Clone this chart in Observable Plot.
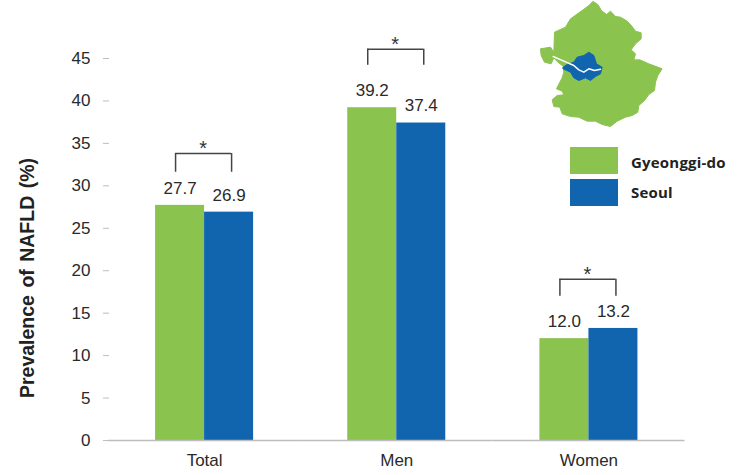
<!DOCTYPE html>
<html><head><meta charset="utf-8">
<script src="https://cdn.jsdelivr.net/npm/d3@7"></script>
<script src="https://cdn.jsdelivr.net/npm/@observablehq/plot@0.6"></script>
<style>
html,body{margin:0;padding:0;background:#fff}
#root{position:relative;width:744px;height:475px;overflow:hidden}
#root svg{position:absolute;overflow:visible}
.lg{position:absolute;font:bold 15px "Open Sans",sans-serif;letter-spacing:.2px;color:#222;line-height:18px;transform:translateY(-50%);white-space:nowrap}
.sw{position:absolute;width:48px;height:27px}
</style></head><body><div id="root"></div>
<script>
const categories = ["Total", "Men", "Women"];
const seriesNames = ["Gyeonggi-do", "Seoul"];
const gyeonggi = [27.7, 39.2, 12.0];
const seoul = [26.9, 37.4, 13.2];
const bracketTop = [33.8, 46.1, 19.0];
const bracketBottom = [31.6, 44.2, 17.0];
const colors = ["#8bc34f", "#1165ae"];
const mapOutlineX = [218,232,243,258,270,285,300,320,335,345,362,362,345,332,345,340,358,385,425,412,405,402,385,372,355,352,335,315,290,270,245,225,200,175,150,125,118,100,95,110,130,125,108,118,125,130,128,112,100,92,72,62,60,90,100,102,135,150,185,205];
const mapOutlineY = [3,12,30,42,32,48,50,62,78,92,97,115,130,148,160,178,178,190,205,225,245,270,282,300,315,335,345,350,362,378,372,362,362,350,348,340,320,318,298,285,283,272,265,245,232,215,197,185,172,190,185,165,145,140,155,95,80,55,30,15];
const seoulX = [128,140,160,170,190,205,220,228,245,240,225,210,195,175,160,150,128];
const seoulY = [200,192,185,170,165,155,165,190,200,220,228,240,232,240,232,215,205];
const riverX = [98,130,160,175,190,205,222,240];
const riverY = [168,182,195,208,215,205,210,206];

const bars = categories.flatMap((c,i)=>[
  {category:c, series:seriesNames[0], value:gyeonggi[i]},
  {category:c, series:seriesNames[1], value:seoul[i]}]);
const brackets = categories.map((c,i)=>({category:c, top:bracketTop[i], bottom:bracketBottom[i]}));
const font = '"Liberation Sans",Arial,sans-serif';

const chart = Plot.plot({
  width:744, height:475, marginLeft:108, marginRight:59.5, marginTop:58, marginBottom:35,
  style:{fontFamily:font, fontSize:"17px", background:"transparent", color:"#2a2a2a"},
  fx:{domain:categories, padding:0, label:null, round:false},
  x:{domain:seriesNames, paddingInner:0, paddingOuter:0.96, axis:null, round:false},
  y:{domain:[0,45], ticks:d3.range(0,46,5), label:null},
  color:{domain:seriesNames, range:colors},
  marks:[
    Plot.barY(bars,{fx:"category", x:"series", y:"value", fill:"series"}),
    Plot.text(bars,{fx:"category", x:"series", y:"value", text:d=>d.value.toFixed(1), dy:-17, fill:"#2a2a2a", fontSize:17}),
    Plot.ruleY(brackets,{fx:"category", x1:()=>seriesNames[0], x2:()=>seriesNames[1], y:"top", insetLeft:20, insetRight:22, stroke:"#444", strokeWidth:1.5}),
    Plot.ruleX(brackets,{fx:"category", x:()=>seriesNames[0], y1:"bottom", y2:"top", dx:-4.5, stroke:"#444", strokeWidth:1.5}),
    Plot.ruleX(brackets,{fx:"category", x:()=>seriesNames[1], y1:"bottom", y2:"top", dx:2.5, stroke:"#444", strokeWidth:1.5}),
    Plot.text(brackets,{fx:"category", text:()=>"*", y:"top", frameAnchor:"middle", dx:-1.5, dy:-5, fill:"#333", fontSize:20}),
    Plot.ruleY([0],{stroke:"#bdbdbd", strokeWidth:1.5}),
    Plot.axisFx({anchor:"bottom", tickSize:0, tickPadding:13, fontSize:17, label:null, fill:"#2a2a2a"}),
    Plot.axisY({ticks:d3.range(0,46,5), tickSize:6, tickPadding:13, dx:1, stroke:"#bdbdbd", fill:"#2a2a2a", fontSize:17, label:null}),
    Plot.ruleX([0],{frameAnchor:"left", dx:1, stroke:"#bdbdbd", strokeWidth:1.5}),
  ]
});
chart.style.left="0"; chart.style.top="0";
const root=document.getElementById("root");
root.appendChild(chart);

const inset = Plot.plot({
  width:150, height:130, margin:0,
  x:{domain:[0,450], axis:null},
  y:{domain:[390,0], axis:null},
  marks:[
    Plot.line(mapOutlineX.map((x,i)=>({x,y:mapOutlineY[i]})),{x:"x",y:"y",curve:"linear-closed",fill:colors[0],stroke:colors[0],strokeWidth:1}),
    Plot.line(seoulX.map((x,i)=>({x,y:seoulY[i]})),{x:"x",y:"y",curve:"linear-closed",fill:colors[1],stroke:colors[1],strokeWidth:1}),
    Plot.line(riverX.map((x,i)=>({x,y:riverY[i]})),{x:"x",y:"y",stroke:"#fff",strokeWidth:1.5}),
  ]
});
inset.style.left="520px"; inset.style.top="0";
root.appendChild(inset);

const t=document.createElement("div");
t.textContent="Prevalence of NAFLD (%)";
t.style.cssText='position:absolute;left:27px;top:277.5px;transform:translate(-50%,-50%) rotate(-90deg);white-space:nowrap;font:bold 19.5px "Liberation Sans",sans-serif;word-spacing:2px;color:#222';
root.appendChild(t);
seriesNames.forEach((s,i)=>{
  const sw=document.createElement("div");sw.className="sw";
  sw.style.left="570px";sw.style.top=(i?179:147)+"px";sw.style.background=colors[i];root.appendChild(sw);
  const l=document.createElement("div");l.className="lg";l.textContent=s;
  l.style.left="631px";l.style.top=(i?192:162)+"px";root.appendChild(l);
});
</script></body></html>
